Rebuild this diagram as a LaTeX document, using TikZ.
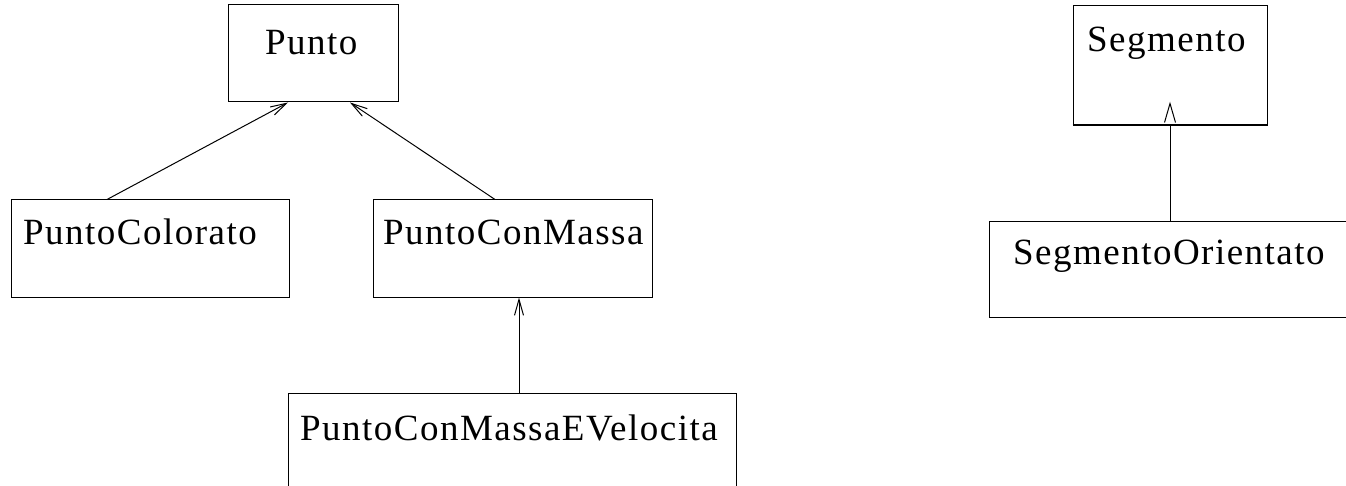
\documentclass[tikz,border=0pt]{standalone}
\usepackage{fontspec}
\setmainfont[LetterSpace=4]{Liberation Serif}
\usetikzlibrary{arrows.meta}
\tikzset{
  box/.style={draw, line width=1pt, rectangle, inner sep=0pt},
  lbl/.style={anchor=base west, inner sep=0pt, font=\fontsize{37}{41}\selectfont},
  inh/.style={line width=1pt, -{Straight Barb[length=16pt,width=9pt,line width=1pt]}}
}
\begin{document}
\begin{tikzpicture}[x=1pt,y=-1pt]
\clip (0,0) rectangle (1346,486);
\fill[white] (0,0) rectangle (1346,486);
% boxes
\node[box, minimum width=170pt, minimum height=97pt] (punto) at (313,53.5) {};
\node[box, minimum width=278pt, minimum height=97pt] (pc) at (150,248.5) {};
\node[box, minimum width=279pt, minimum height=97pt] (pcm) at (512.5,248.5) {};
\node[box, minimum width=448pt, minimum height=117pt] (pcmv) at (512,451.5) {};
\node[box, minimum width=194pt, minimum height=119pt] (seg) at (1170,65.5) {};
\node[box, minimum width=381pt, minimum height=95pt] (segor) at (1179.5,269.5) {};
\draw[line width=2pt] (seg.south west) -- (seg.south east);
% labels
\node[lbl] (tpunto) at (265,55) {Punto};
\node[lbl] (tpc) at (23,245) {PuntoColorato};
\node[lbl] (tpcm) at (383,245) {PuntoConMassa};
\node[lbl] (tpcmv) at (300,440) {PuntoConMassaEVelocita};
\node[lbl] (tseg) at (1087,52) {Segmento};
\node[lbl] (tsegor) at (1013,265) {SegmentoOrientato};
% connectors
\draw[inh] ([xshift=-43pt]pc.north) -- ([xshift=-25pt]punto.south);
\draw[inh] ([xshift=-17.5pt]pcm.north) -- ([xshift=37pt]punto.south);
\draw[inh] ([xshift=7pt]pcmv.north) -- ([xshift=6.5pt]pcm.south);
\draw[line width=1pt] (segor.north -| seg.south) -- (seg.south);
\draw[line width=1pt] ([xshift=-5.5pt,yshift=3pt]seg.south) -- ([yshift=22pt]seg.south) -- ([xshift=5.5pt,yshift=3pt]seg.south);
\end{tikzpicture}
\end{document}
